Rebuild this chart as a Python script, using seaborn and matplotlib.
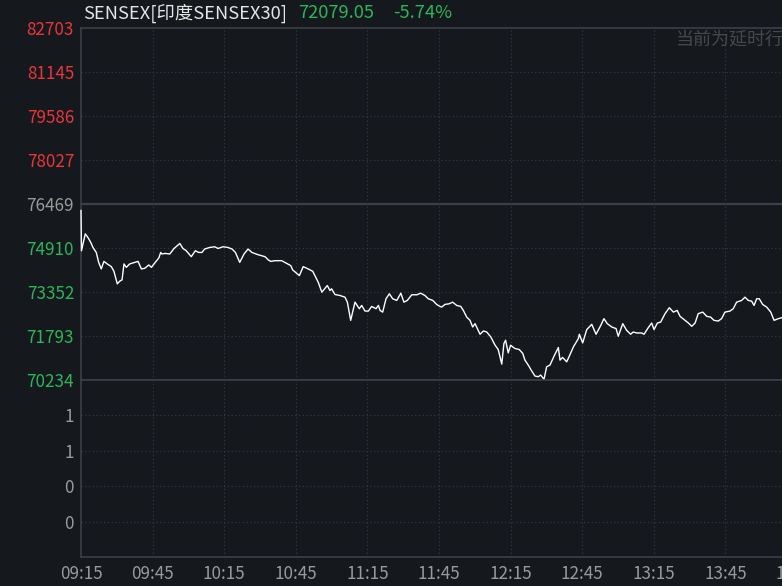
import matplotlib
matplotlib.use("Agg")
import matplotlib.pyplot as plt
import seaborn as sns
import pandas as pd

# ---------------- data ----------------
title_name = "SENSEX[印度SENSEX30]"
last_price = "72079.05"
change_pct = "-5.74%"
delay_note = "当前为延时行情"

prev_close = 76469
price_ticks = [82703, 81145, 79586, 78027, 76469, 74910, 73352, 71793, 70234]
vol_tick_pos = [4, 3, 2, 1]
vol_tick_labels = ["1", "1", "0", "0"]

time_ticks = [0, 30, 60, 90, 120, 150, 180, 210, 240, 270, 300, 330, 360]
time_labels = ["09:15", "09:45", "10:15", "10:45", "11:15", "11:45", "12:15",
               "12:45", "13:15", "13:45", "14:15", "14:45", "15:15"]

# minutes after 09:15
minutes = [0.0, 0.2, 1.8, 2.9, 4.1, 5.0, 6.4, 7.4, 8.5, 9.6, 11.0, 12.7, 13.8, 15.2,
           16.2, 17.2, 18.0, 19.0, 20.4, 22.5, 23.9, 25.3, 26.7, 28.4, 29.5, 31.1,
           32.6, 33.4, 33.9, 35.3, 37.2, 39.0, 41.4, 42.7, 44.1, 46.2, 47.9, 49.3,
           50.7, 51.8, 53.9, 56.0, 57.4, 59.5, 61.6, 63.3, 64.7, 66.5, 68.3, 70.0,
           71.6, 74.2, 75.7, 77.1, 78.5, 79.5, 81.3, 84.1, 86.2, 87.9, 88.7, 90.4,
           91.5, 93.1, 95.2, 97.1, 98.0, 99.4, 100.9, 103.2, 104.3, 105.0, 106.4,
           108.5, 110.6, 111.6, 113.0, 114.8, 116.6, 117.6, 119.0, 120.4, 121.8,
           123.6, 124.6, 125.3, 126.4, 127.8, 129.2, 130.6, 132.3, 134.0, 135.3,
           136.7, 138.6, 140.7, 142.3, 144.1, 145.5, 147.4, 149.0, 150.4, 151.1,
           152.5, 154.3, 155.7, 157.4, 159.1, 160.2, 161.6, 163.0, 164.1, 165.1,
           167.2, 168.6, 170.0, 171.7, 173.5, 174.8, 176.3, 177.2, 177.9, 179.0,
           180.0, 181.8, 183.6, 185.1, 186.0, 187.4, 188.8, 190.2, 191.6, 192.6,
           194.0, 195.1, 196.5, 198.2, 200.0, 200.7, 201.8, 203.5, 204.6, 206.3,
           208.4, 208.8, 210.2, 211.9, 214.0, 215.8, 217.8, 219.1, 220.5, 222.4,
           224.2, 225.1, 227.0, 228.6, 230.3, 231.4, 232.8, 234.9, 235.9, 237.7,
           239.1, 240.1, 241.5, 242.9, 244.7, 246.5, 248.2, 249.8, 251.0, 253.1,
           254.5, 255.9, 257.3, 258.6, 260.5, 262.2, 263.8, 265.2, 267.0, 268.4,
           269.8, 271.9, 273.3, 274.7, 276.8, 278.2, 279.6, 281.0, 282.0, 283.1,
           284.2, 285.6, 287.3, 289.0, 290.4, 292.2, 293.6]

prices = [76247, 74813, 75412, 75282, 75106, 74929, 74753, 74401, 74168, 74436, 74345,
          74250, 74084, 73640, 73732, 73781, 74345, 74225, 74345, 74401, 74436, 74168,
          74190, 74309, 74225, 74401, 74556, 74753, 74697, 74718, 74697, 74894, 75070,
          74894, 74813, 74602, 74813, 74753, 74753, 74873, 74929, 74954, 74894, 74954,
          74929, 74873, 74753, 74401, 74697, 74873, 74753, 74672, 74637, 74602, 74486,
          74436, 74461, 74461, 74366, 74285, 74133, 74013, 73932, 74250, 74168, 74084,
          73932, 73696, 73344, 73580, 73404, 73464, 73263, 73228, 73168, 72992, 72347,
          72992, 72759, 72876, 72675, 72675, 72840, 72759, 72876, 72699, 72639, 73112,
          73288, 73112, 73052, 73309, 72992, 73052, 73253, 73253, 73309, 73228, 73112,
          73052, 72911, 72840, 72816, 72911, 72935, 72992, 72876, 72840, 72699, 72463,
          72347, 72111, 72231, 71854, 71970, 71935, 71759, 71466, 71315, 70797, 71526,
          71642, 71195, 71466, 71350, 71315, 71174, 70938, 70762, 70561, 70374, 70350,
          70409, 70258, 70702, 70762, 71079, 71385, 70938, 71033, 70878, 71079, 71406,
          71702, 71854, 71547, 72019, 72206, 71854, 72171, 72407, 72231, 72111, 72055,
          71783, 72231, 71995, 71854, 71935, 71900, 71900, 71854, 72090, 72252, 72019,
          72252, 72287, 72583, 72794, 72639, 72699, 72488, 72347, 72252, 72136, 72252,
          72583, 72639, 72488, 72463, 72347, 72322, 72407, 72639, 72675, 72759, 72992,
          73052, 73168, 73052, 73027, 72876, 73112, 73112, 72911, 72816, 72639, 72347,
          72407, 72442]

# ---------------- style ----------------
BG = "#15181d"
GRID = "#33373d"
SOLID = "#3c4046"
RED = "#e8363b"
GREEN = "#2cb559"
GRAY = "#9a9a9a"

sns.set_theme(style="dark")
plt.rcParams["font.family"] = ["Noto Sans CJK SC", "DejaVu Sans"]

fig = plt.figure(figsize=(7.82, 5.86), dpi=100, facecolor=BG)
W, H = 782.0, 586.0
x0 = 81
x1 = 81 + 375 / 30 * 71.6   # full session extends beyond the visible frame
ax = fig.add_axes([x0 / W, 1 - 380 / H, (x1 - x0) / W, (380 - 28) / H])
axv = fig.add_axes([x0 / W, 1 - 557 / H, (x1 - x0) / W, (557 - 380) / H], sharex=ax)

for a in (ax, axv):
    a.set_facecolor(BG)
    for s in a.spines.values():
        s.set_color(SOLID)
        s.set_linewidth(1.2)
    a.spines["right"].set_visible(False)

df = pd.DataFrame({"minute": minutes, "price": prices})
sns.lineplot(data=df, x="minute", y="price", ax=ax, color="white", linewidth=1.0,
             zorder=5)
for ln in ax.lines:
    ln.set_clip_on(False)

ax.set_xlim(0, 375)
ax.set_ylim(price_ticks[-1], price_ticks[0])
ax.set_yticks(price_ticks)
ax.set_yticklabels([str(v) for v in price_ticks])
for lbl, v in zip(ax.get_yticklabels(), price_ticks):
    lbl.set_color(RED if v > prev_close else (GRAY if v == prev_close else GREEN))
ax.tick_params(axis="y", length=0, pad=5, labelsize=12.3)
ax.tick_params(axis="x", length=0, labelbottom=False)
ax.set_xlabel("")
ax.set_ylabel("")
ax.grid(False)
for v in price_ticks[1:-1]:
    if v == prev_close:
        ax.axhline(v, color=SOLID, linewidth=1.6, zorder=1)
    else:
        ax.axhline(v, color=GRID, linewidth=0.9, linestyle=(0, (1, 2)), zorder=1)
for t in time_ticks[1:]:
    ax.axvline(t, color=GRID, linewidth=0.9, linestyle=(0, (1, 2)), zorder=1)
    axv.axvline(t, color=GRID, linewidth=0.9, linestyle=(0, (1, 2)), zorder=1)

axv.set_ylim(0, 5)
axv.set_yticks(vol_tick_pos)
axv.set_yticklabels(vol_tick_labels, color=GRAY)
axv.tick_params(axis="y", length=0, pad=5, labelsize=12.3)
for p in vol_tick_pos:
    axv.axhline(p, color=GRID, linewidth=0.9, linestyle=(0, (1, 2)), zorder=1)
axv.set_xticks(time_ticks)
axv.set_xticklabels(time_labels, color=GRAY)
axv.tick_params(axis="x", length=0, pad=6, labelsize=12.3)
axv.grid(False)
axv.set_xlabel("")
axv.set_ylabel("")

# header
fig.text(83 / W, 1 - 13 / H, title_name, color="#e6e6e6", fontsize=13.2, va="center", ha="left")
fig.text(298 / W, 1 - 13 / H, last_price, color=GREEN, fontsize=13.2, va="center", ha="left")
fig.text(393 / W, 1 - 13 / H, change_pct, color=GREEN, fontsize=13.2, va="center", ha="left")
fig.text(676 / W, 1 - 40 / H, delay_note, color="#45484d", fontsize=13, va="center", ha="left")

fig.savefig("out.png", dpi=100, facecolor=BG)
